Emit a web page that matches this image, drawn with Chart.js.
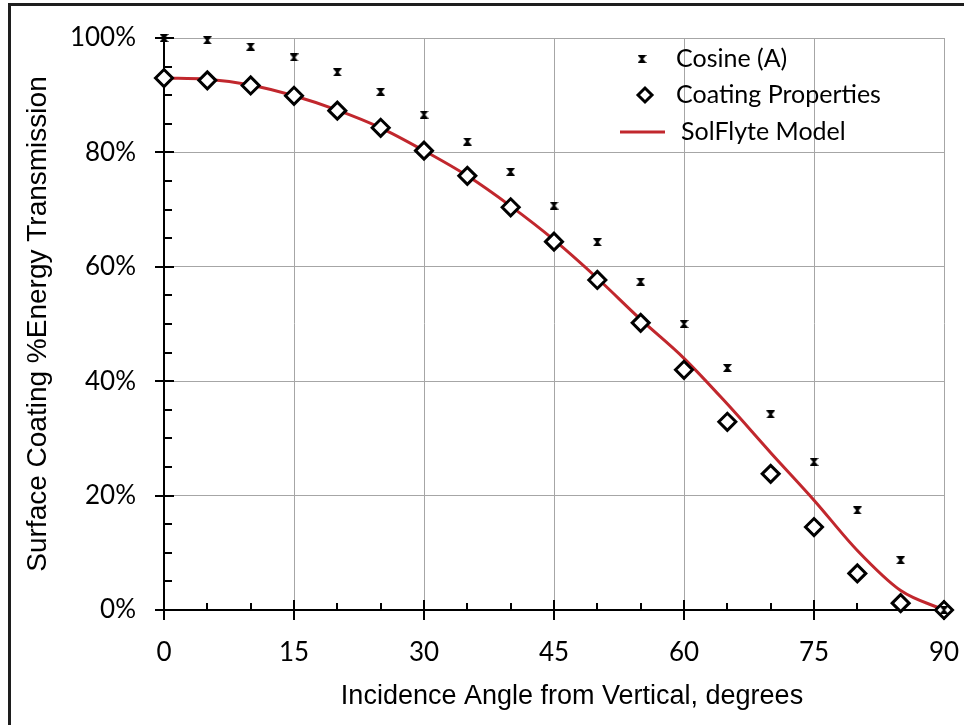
<!DOCTYPE html>
<html>
<head>
    <meta charset="UTF-8">
    <title>Surface Coating Transmission</title>
    <meta name="viewport" content="width=device-width, initial-scale=1.0">
    <script src="https://cdn.jsdelivr.net/npm/chart.js"></script>
    <style>
        body {
            margin: 0;
            background-color: #ffffff;
        }
        canvas {
            display: block;
        }
    </style>
</head>
<body>
    <canvas id="myChart" width="964" height="725"></canvas>

    <script>
        // incidence angles, degrees
        const angles = [0, 5, 10, 15, 20, 25, 30, 35, 40, 45, 50, 55, 60, 65, 70, 75, 80, 85, 90];
        // transmission values, percent
        const cosineA = [100, 99.6, 98.5, 96.6, 94.0, 90.6, 86.6, 81.9, 76.6, 70.7, 64.3, 57.4, 50.0, 42.3, 34.2, 25.9, 17.4, 8.7, 0];
        const coating = [93.0, 92.6, 91.7, 89.9, 87.3, 84.3, 80.3, 75.9, 70.4, 64.4, 57.7, 50.2, 42.0, 32.9, 23.8, 14.5, 6.4, 1.2, 0];
        const solflyte = [93.0, 92.8, 91.8, 89.9, 87.4, 84.3, 80.3, 75.9, 70.6, 64.7, 58.0, 50.8, 44.0, 36.0, 27.5, 19.2, 10.4, 3.4, 0];

        const xTicks = [0, 15, 30, 45, 60, 75, 90];
        const yTicks = [0, 20, 40, 60, 80, 100];
        const xMinorStep = 5;
        const yMinorStep = 5;

        const seriesNames = ['Cosine (A)', 'Coating Properties', 'SolFlyte Model'];
        const xTitle = 'Incidence Angle from Vertical, degrees';
        const yTitle = 'Surface Coating %Energy Transmission';

        const redLine = '#c1272d';
        const gridGray = '#a6a6a6';
        const tickFont = { family: 'Lato', size: 26 };

        // small hourglass shaped "x" marker for the cosine points
        const xMark = document.createElement('canvas');
        xMark.width = 9;
        xMark.height = 8;
        const m = xMark.getContext('2d');
        m.fillStyle = '#000000';
        m.beginPath();
        m.moveTo(0, 0);
        m.lineTo(9, 0);
        m.lineTo(5.6, 4);
        m.lineTo(9, 8);
        m.lineTo(0, 8);
        m.lineTo(3.4, 4);
        m.closePath();
        m.fill();

        function toPoints(values) {
            return angles.map((a, i) => ({ x: a, y: values[i] }));
        }

        // outer frame of the figure
        const frame = {
            id: 'frame',
            afterDraw(chart) {
                const ctx = chart.ctx;
                ctx.save();
                ctx.strokeStyle = '#1e1e1e';
                ctx.lineWidth = 3;
                ctx.strokeRect(9.5, 4.5, 2000, 2000);
                ctx.restore();
            }
        };

        // x axis title sits a bit right of the plot centre
        const bottomTitle = {
            id: 'bottomTitle',
            afterDraw(chart) {
                const ctx = chart.ctx;
                const area = chart.chartArea;
                ctx.save();
                ctx.font = '27px "Liberation Sans"';
                ctx.fillStyle = '#000000';
                ctx.textAlign = 'center';
                ctx.textBaseline = 'middle';
                ctx.fillText(xTitle, (area.left + area.right) / 2 + 18, area.bottom + 87);
                ctx.restore();
            }
        };

        // major ticks cross the axis, minor ticks point inwards
        const tickMarks = {
            id: 'tickMarks',
            beforeDatasetsDraw(chart) {
                const ctx = chart.ctx;
                const area = chart.chartArea;
                const xs = chart.scales.x;
                const ys = chart.scales.y;
                ctx.save();
                ctx.strokeStyle = '#000000';
                ctx.lineWidth = 2;
                ctx.beginPath();
                for (let v = ys.min; v <= ys.max; v += yMinorStep) {
                    const y = Math.round(ys.getPixelForValue(v));
                    if (yTicks.includes(v)) {
                        ctx.moveTo(area.left - 9, y);
                        ctx.lineTo(area.left + 10, y);
                    } else {
                        ctx.moveTo(area.left, y);
                        ctx.lineTo(area.left + 8, y);
                    }
                }
                for (let v = xs.min; v <= xs.max; v += xMinorStep) {
                    const x = Math.round(xs.getPixelForValue(v));
                    if (xTicks.includes(v)) {
                        ctx.moveTo(x, area.bottom - 10);
                        ctx.lineTo(x, area.bottom + 10);
                    } else {
                        ctx.moveTo(x, area.bottom);
                        ctx.lineTo(x, area.bottom - 7);
                    }
                }
                ctx.stroke();
                ctx.restore();
            }
        };

        // legend box in the upper right of the plot
        const cornerLegend = {
            id: 'cornerLegend',
            afterDatasetsDraw(chart) {
                const ctx = chart.ctx;
                const area = chart.chartArea;
                const mx = area.right - 302;
                const rows = [area.top + 21, area.top + 57, area.top + 94];
                const ds = chart.data.datasets;
                ctx.save();
                ctx.font = '25px Lato';
                ctx.fillStyle = '#000000';
                ctx.textBaseline = 'middle';

                ctx.drawImage(xMark, mx - 4.5, rows[0] - 4);
                ctx.fillText(ds[0].label, area.right - 268, rows[0]);

                ctx.strokeStyle = ds[1].borderColor;
                ctx.fillStyle = ds[1].backgroundColor;
                ctx.lineWidth = ds[1].borderWidth;
                Chart.helpers.drawPoint(ctx, { pointStyle: 'rectRot', radius: 7, borderWidth: 3 }, mx + 3, rows[1]);
                ctx.fillStyle = '#000000';
                ctx.fillText(ds[1].label, area.right - 268, rows[1]);

                ctx.strokeStyle = ds[2].borderColor;
                ctx.lineWidth = ds[2].borderWidth;
                ctx.beginPath();
                ctx.moveTo(area.right - 324, rows[2]);
                ctx.lineTo(area.right - 279, rows[2]);
                ctx.stroke();
                ctx.fillText(ds[2].label, area.right - 263, rows[2]);
                ctx.restore();
            }
        };

        const ctx = document.getElementById('myChart').getContext('2d');
        const chart = new Chart(ctx, {
            type: 'scatter',
            data: {
                datasets: [
                    {
                        label: seriesNames[0],
                        data: toPoints(cosineA),
                        pointStyle: xMark,
                        pointRadius: 4,
                        showLine: false,
                        clip: false,
                        order: -1
                    },
                    {
                        label: seriesNames[1],
                        data: toPoints(coating),
                        pointStyle: 'rectRot',
                        pointRadius: 8.5,
                        borderColor: '#000000',
                        backgroundColor: '#ffffff',
                        borderWidth: 3,
                        showLine: false,
                        clip: false,
                        order: 0
                    },
                    {
                        label: seriesNames[2],
                        data: toPoints(solflyte),
                        showLine: true,
                        pointRadius: 0,
                        borderColor: redLine,
                        borderWidth: 3,
                        cubicInterpolationMode: 'monotone',
                        clip: false,
                        order: 2
                    }
                ]
            },
            options: {
                responsive: false,
                animation: false,
                layout: {
                    padding: { top: 38, right: 20, left: 0, bottom: 0 }
                },
                plugins: {
                    legend: { display: false },
                    tooltip: { enabled: false }
                },
                scales: {
                    x: {
                        type: 'linear',
                        min: 0,
                        max: 90,
                        afterBuildTicks: scale => { scale.ticks = xTicks.map(v => ({ value: v })); },
                        afterFit: scale => {
                            scale.height = 115;
                            scale.paddingLeft = 0;
                            scale.paddingRight = 0;
                        },
                        grid: { color: gridGray, lineWidth: 1, drawTicks: false },
                        border: { color: '#000000', width: 2 },
                        ticks: { color: '#000000', font: tickFont, padding: 27 }
                    },
                    y: {
                        min: 0,
                        max: 100,
                        afterBuildTicks: scale => { scale.ticks = yTicks.map(v => ({ value: v })); },
                        afterFit: scale => {
                            scale.width = 164;
                            scale.paddingTop = 0;
                            scale.paddingBottom = 0;
                        },
                        grid: { color: gridGray, lineWidth: 1, drawTicks: false },
                        border: { color: '#000000', width: 2 },
                        ticks: {
                            color: '#000000',
                            font: tickFont,
                            padding: 28,
                            callback: v => v + '%'
                        },
                        title: {
                            display: true,
                            text: yTitle,
                            color: '#000000',
                            font: { family: 'Liberation Sans', size: 28 },
                            padding: { top: 21, bottom: 0 }
                        }
                    }
                }
            },
            plugins: [frame, tickMarks, cornerLegend, bottomTitle]
        });
    </script>
</body>
</html>
